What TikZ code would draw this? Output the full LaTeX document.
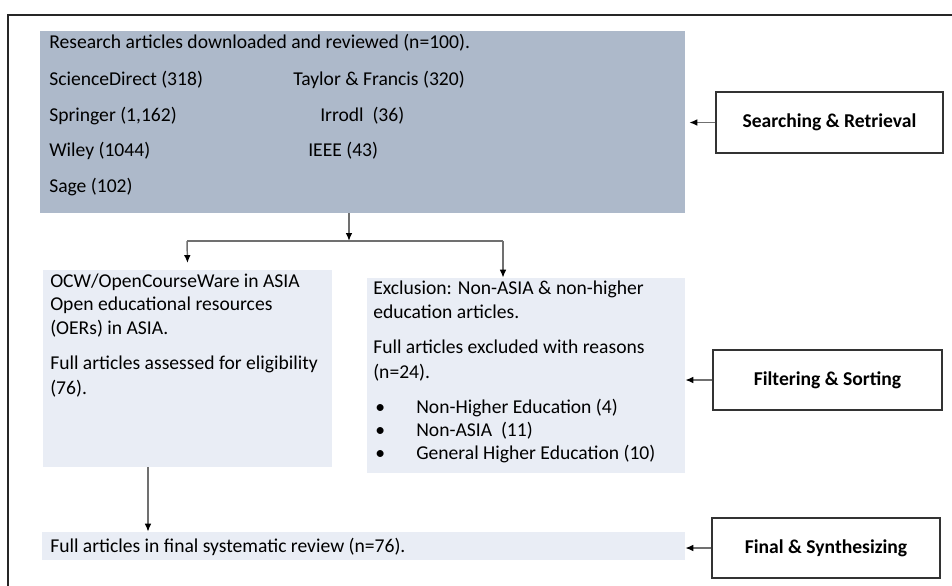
\documentclass[tikz,border=0pt]{standalone}
\usepackage{fontspec}
\setmainfont{Carlito}
\usetikzlibrary{fit,arrows.meta}
\definecolor{topfill}{HTML}{ADB9CA}
\definecolor{lightfill}{HTML}{E9EDF5}
\definecolor{lnc}{HTML}{707070}
\begin{document}
\begin{tikzpicture}[x=0.75pt,y=-0.75pt,
  every node/.style={font=\fontsize{14.7}{18}\selectfont},
  txt/.style={anchor=base west,inner sep=0pt},
  boxA/.style={fill=topfill,inner sep=0pt},
  boxB/.style={fill=lightfill,inner sep=0pt},
  lab/.style={draw=black!80,line width=1.1pt,fill=white,inner sep=0pt,font=\fontsize{14.7}{18}\selectfont\bfseries},
  arr/.style={draw=lnc,line width=1.1pt,-{Latex[length=6pt,width=5pt,color=black]}},
  ln/.style={draw=lnc,line width=1.1pt}]
\useasboundingbox (0,0) rectangle (952,585);
% outer frame
\draw[line width=1.5pt,black!85] (8,590) -- (8,15) -- (960,15);
% boxes
\node[boxA,fit={(40,31) (685,213)}] (top) {};
\node[boxB,fit={(43,270) (332,467)}] (left) {};
\node[boxB,fit={(367,278) (685,473)}] (rt) {};
\node[boxB,fit={(42,532) (685,560)}] (bot) {};
% label boxes
\node[lab,minimum width=170.25pt,minimum height=45.75pt] (sr) at (829.5,122.5) {Searching \& Retrieval};
\node[lab,minimum width=171.75pt,minimum height=45pt] (fs) at (827.5,380) {Filtering \& Sorting};
\node[lab,minimum width=171pt,minimum height=45pt] (fn) at (826,548) {Final \& Synthesizing};
% top box text
\node[txt] (t1) at (49,49) {Research articles downloaded and reviewed (n=100).};
\node[txt] (t2) at (49,85) {ScienceDirect (318)};
\node[txt] (t3) at (49,121) {Springer (1,162)};
\node[txt] (t4) at (49,156) {Wiley (1044)};
\node[txt] (t5) at (49,192) {Sage (102)};
\node[txt] (t6) at (293,85) {Taylor \& Francis (320)};
\node[txt] (t7) at (320,121) {Irrodl\ \ (36)};
\node[txt] (t8) at (308,156) {IEEE (43)};
% left box text
\node[txt] (l1) at (50,287) {OCW/OpenCourseWare in ASIA};
\node[txt] (l2) at (50,310) {Open educational resources};
\node[txt] (l3) at (50,334) {(OERs) in ASIA.};
\node[txt] (l4) at (50,369) {Full articles assessed for eligibility};
\node[txt] (l5) at (50,394) {(76).};
% right box text
\node[txt] (r1) at (373,294) {Exclusion: Non-ASIA \& non-higher};
\node[txt] (r2) at (373,318) {education articles.};
\node[txt] (r3) at (373,353) {Full articles excluded with reasons};
\node[txt] (r4) at (373,378) {(n=24).};
\node[txt] (b1) at (375,413) {\textbullet};
\node[txt] (b2) at (375,436) {\textbullet};
\node[txt] (b3) at (375,459) {\textbullet};
\node[txt] (r5) at (416,413) {Non-Higher Education (4)};
\node[txt] (r6) at (416,436) {Non-ASIA\ \ (11)};
\node[txt] (r7) at (416,459) {General Higher Education (10)};
% bottom text
\node[txt] (f1) at (50,552) {Full articles in final systematic review (n=76).};
% connectors
\coordinate (J) at (349,241);
\coordinate (Jl) at (187,241);
\coordinate (Jr) at (503,241);
\coordinate (bx) at (148,500);
\draw[arr] (top.south -| J) -- (J);
\draw[ln] (Jl) -- (Jr);
\draw[arr] (Jl) -- ([yshift=5]left.north);
\draw[arr] (Jr) -- (Jr |- rt.north);
\draw[arr] (bx |- left.south) -- (bx |- bot.north);
\draw[arr] (sr.west) -- ([xshift=3]top.east |- sr.west);
\draw[arr] (fs.west) -- (rt.east |- fs.west);
\draw[arr] (fn.west) -- (bot.east |- fn.west);
\end{tikzpicture}
\end{document}
